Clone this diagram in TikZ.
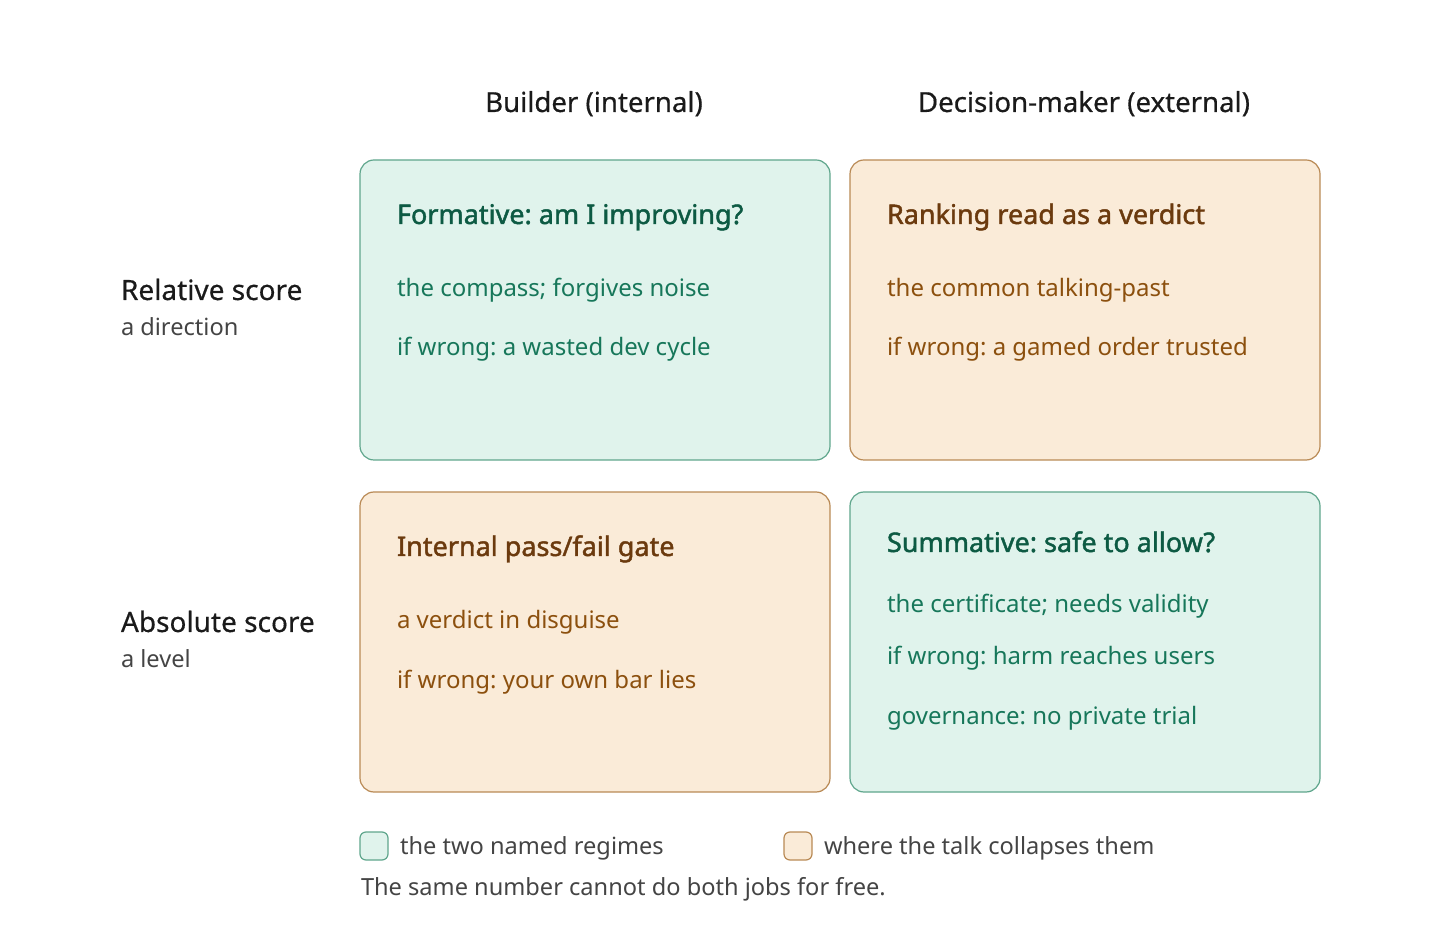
\documentclass[tikz,border=0pt]{standalone}
\usepackage{fontspec}
\setmainfont{Noto Sans}
\newfontfamily\ttlfont{Noto Sans}[FakeBold=1.6]
\newfontfamily\medfont{Noto Sans}[FakeBold=0.5]
\frenchspacing
\definecolor{gfill}{HTML}{E0F3EC}
\definecolor{gline}{HTML}{5FA68C}
\definecolor{gtitle}{HTML}{0D5A43}
\definecolor{gtext}{HTML}{17775A}
\definecolor{ofill}{HTML}{FAEBD8}
\definecolor{oline}{HTML}{B98A55}
\definecolor{otitle}{HTML}{6B3A0E}
\definecolor{otext}{HTML}{8C500E}
\definecolor{ink}{HTML}{1A1A1A}
\definecolor{sub}{HTML}{444444}
\tikzset{
  gbox/.style={draw=gline,fill=gfill,line width=0.6pt,rounded corners=7pt},
  obox/.style={draw=oline,fill=ofill,line width=0.6pt,rounded corners=7pt},
  txt/.style={anchor=base west,inner sep=0pt,outer sep=0pt},
  ttl/.style={txt,font=\ttlfont\fontsize{13.5}{16}\selectfont\frenchspacing},
  bdy/.style={txt,font=\fontsize{12}{14}\selectfont\frenchspacing},
  hdr/.style={anchor=base,inner sep=0pt,font=\medfont\fontsize{13.8}{16}\selectfont,text=ink},
  rowl/.style={txt,font=\medfont\fontsize{14}{16}\selectfont,text=ink},
  rows/.style={txt,font=\fontsize{11.8}{14}\selectfont\frenchspacing,text=sub},
}
\begin{document}
\begin{tikzpicture}[x=0.5pt,y=-0.5pt]
\useasboundingbox (0,0) rectangle (1440,940);
% headers
\node[hdr] (h1) at (594,112) {Builder (internal)};
\node[hdr] (h2) at (1084,112) {Decision-maker (external)};
% row labels
\node[rowl] (r1) at (121,300) {Relative score};
\node[rows] (r1s) at (121,336) {a direction};
\node[rowl] (r2) at (121,632) {Absolute score};
\node[rows] (r2s) at (121,668) {a level};
% boxes
\draw[gbox] (360,160) rectangle (830,460);
\draw[obox] (850,160) rectangle (1320,460);
\draw[obox] (360,492) rectangle (830,792);
\draw[gbox] (850,492) rectangle (1320,792);
% TL
\node[ttl,text=gtitle] (a1) at (397,224) {Formative: am I improving?};
\node[bdy,text=gtext] (a2) at (397,297) {the compass; forgives noise};
\node[bdy,text=gtext] (a3) at (397,356) {if wrong: a wasted dev cycle};
% TR
\node[ttl,text=otitle] (b1) at (887,224) {Ranking read as a verdict};
\node[bdy,text=otext] (b2) at (887,297) {the common talking-past};
\node[bdy,text=otext] (b3) at (887,356) {if wrong: a gamed order trusted};
% BL
\node[ttl,text=otitle] (c1) at (397,556) {Internal pass/fail gate};
\node[bdy,text=otext] (c2) at (397,628) {a verdict in disguise};
\node[bdy,text=otext] (c3) at (397,688) {if wrong: your own bar lies};
% BR
\node[ttl,text=gtitle] (d1) at (887,552) {Summative: safe to allow?};
\node[bdy,text=gtext] (d2) at (887,612) {the certificate; needs validity};
\node[bdy,text=gtext] (d3) at (887,664) {if wrong: harm reaches users};
\node[bdy,text=gtext] (d4) at (887,724) {governance: no private trial};
% legend
\draw[gbox,rounded corners=3pt] (360,832) rectangle (388,860);
\node[rows] (l1) at (400,854) {the two named regimes};
\draw[obox,rounded corners=3pt] (784,832) rectangle (812,860);
\node[rows] (l2) at (824,854) {where the talk collapses them};
\node[rows] (note) at (361,895) {The same number cannot do both jobs for free.};
\end{tikzpicture}
\end{document}
